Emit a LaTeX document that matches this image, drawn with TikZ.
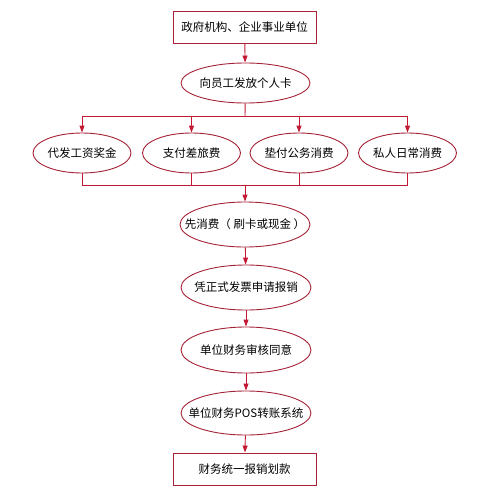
\documentclass[tikz,border=0pt]{standalone}
\usepackage{fontspec}
\setmainfont{Noto Sans CJK SC}
\usetikzlibrary{shapes.geometric, arrows.meta}
\definecolor{frame}{RGB}{165,35,55}
\definecolor{link}{RGB}{195,25,50}
\newcommand{\ovaltext}[1]{\makebox[0pt]{#1}}

\begin{document}
\begin{tikzpicture}[x=1pt, y=-1pt,
	box/.style={rectangle, draw=frame, line width=0.9pt, minimum width=143pt, minimum height=32pt, inner sep=0pt, font=\fontsize{11.5}{12}\selectfont},
	oval/.style={ellipse, draw=frame, line width=0.9pt, minimum width=130pt, minimum height=45pt, inner sep=0pt, font=\fontsize{11.5}{12}\selectfont},
	small/.style={oval, minimum width=98pt, minimum height=40pt},
	link/.style={draw=link, line width=0.9pt},
	arr/.style={link, -{Triangle[length=7pt, width=5pt]}}]
	\useasboundingbox (0,0) rectangle (490,498);

	% Define the nodes with specific positions
	\node[box] (org) at (244.5, 27) {政府机构、企业事业单位};
	\node[oval, minimum width=129pt, minimum height=40pt] (card) at (245.5, 83) {\ovaltext{向员工发放个人卡}};
	\node[small] (wage) at (82, 153) {\ovaltext{代发工资奖金}};
	\node[small] (trip) at (191.5, 153) {\ovaltext{支付差旅费}};
	\node[small] (duty) at (299, 153) {\ovaltext{垫付公务消费}};
	\node[small] (own) at (407.5, 153) {\ovaltext{私人日常消费}};
	\node[oval] (spend) at (245, 224.5) {\ovaltext{先消费（ 刷卡或现金 ）}};
	\node[oval] (bill) at (246, 287.5) {\ovaltext{凭正式发票申请报销}};
	\node[oval, minimum height=46pt] (check) at (246, 350) {\ovaltext{单位财务审核同意}};
	\node[oval, minimum height=44pt] (pos) at (246, 413) {\ovaltext{单位财务POS转账系统}};
	\node[box] (pay) at (244.5, 469) {财务统一报销划款};

	% Junctions of the branch lines
	\coordinate (split) at (245, 116);
	\coordinate (join) at (245, 185);

	% Draw the connectors between nodes
	\draw[arr] (org) -- (card);
	\draw[link] (card) -- (split);
	\draw[link] (wage |- split) -- (own |- split);
	\draw[arr] (wage |- split) -- (wage);
	\draw[arr] (trip |- split) -- (trip);
	\draw[arr] (duty |- split) -- (duty);
	\draw[arr] (own |- split) -- (own);
	\draw[link] (wage) -- (wage |- join);
	\draw[link] (trip) -- (trip |- join);
	\draw[link] (duty) -- (duty |- join);
	\draw[link] (own) -- (own |- join);
	\draw[link] (wage |- join) -- (own |- join);
	\draw[arr] (join) -- (spend);
	\draw[arr] (spend) -- (bill);
	\draw[arr] (bill) -- (check);
	\draw[arr] (check) -- (pos);
	\draw[arr] (pos) -- (pay);
\end{tikzpicture}
\end{document}
